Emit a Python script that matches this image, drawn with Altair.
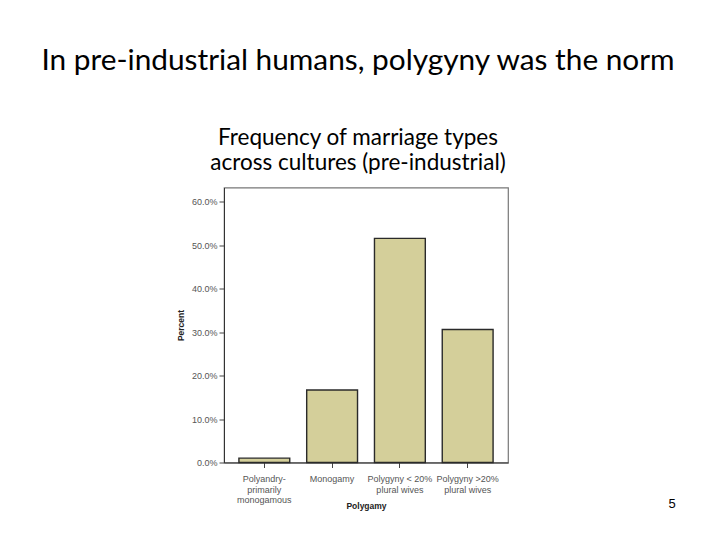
import altair as alt
import pandas as pd

categories = ["Polyandry-|primarily|monogamous", "Monogamy", "Polygyny < 20%|plural wives", "Polygyny >20%|plural wives"]
percents = [1.0, 16.7, 51.6, 30.6]
y_ticks = [0, 10, 20, 30, 40, 50, 60]

df = pd.DataFrame({"type": categories, "percent": percents})

bars = alt.Chart(df).mark_bar(
    color="#d4cf9a", stroke="#2a2a2a", strokeWidth=1.4
).encode(
    x=alt.X("type:N", sort=categories,
            scale=alt.Scale(paddingInner=0.25, paddingOuter=0.22),
            axis=alt.Axis(title="Polygamy", labelAngle=0,
                          labelExpr="split(datum.label, '|')",
                          labelLineHeight=10.5, labelPadding=7,
                          titleFontWeight="bold", titleFontSize=8.5, titlePadding=-3,
                          tickSize=5, tickColor="#444", domainColor="#333",
                          labelColor="#555", labelFontSize=9, labelFont="Liberation Sans",
                          titleFont="Liberation Sans", titleColor="#222")),
    y=alt.Y("percent:Q", scale=alt.Scale(domain=[0, 63.3], nice=False, zero=True),
            axis=alt.Axis(title="Percent", values=y_ticks,
                          labelExpr="format(datum.value, '.1f') + '%'",
                          grid=False, tickSize=5, tickColor="#444", domainColor="#333",
                          labelColor="#555", labelFontSize=9, labelFont="Liberation Sans",
                          titleFont="Liberation Sans", titleFontWeight="bold",
                          titleFontSize=8.5, titleColor="#222", titlePadding=6,
                          labelPadding=2)),
)

page_num = alt.Chart(pd.DataFrame({"t": ["5"]})).mark_text(
    font="Liberation Sans", fontSize=13, color="#000", align="center", baseline="middle"
).encode(text="t:N", x=alt.value(448), y=alt.value(316.5))

chart = alt.layer(bars, page_num).properties(
    width=284, height=275,
    autosize=alt.AutoSizeParams(type="none"),
    padding={"left": 216, "top": 179.5, "right": 204, "bottom": 69.5},
    title=alt.TitleParams(
        text="In pre-industrial humans, polygyny was the norm",
        subtitle=["Frequency of marriage types", "across cultures (pre-industrial)"],
        anchor="middle", dx=-8, offset=13,
        font="Lato", fontSize=29.8, fontWeight="normal", color="#000",
        subtitleFont="Lato", subtitleFontSize=22.5, subtitleColor="#000",
        subtitlePadding=51, subtitleLineHeight=25,
    ),
).configure_view(stroke="#777", strokeWidth=1.2)

chart.save("out.html", embed_options={"renderer": "svg", "actions": False})
